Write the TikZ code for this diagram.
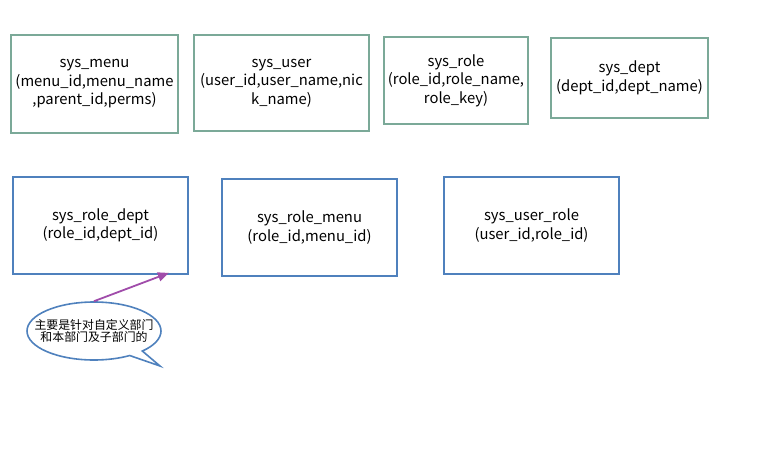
\documentclass[tikz,border=0pt]{standalone}
\usepackage{fontspec}
\usepackage{tikz}
\usetikzlibrary{shapes.geometric, shapes.callouts, arrows.meta, positioning, calc}
\setmainfont{Noto Sans CJK SC}
\definecolor{tblgreen}{HTML}{7BA998}
\definecolor{relblue}{HTML}{4F81BD}
\definecolor{notepurple}{HTML}{A04CAA}

\begin{document}
\begin{tikzpicture}[x=1pt, y=-1pt, >={Triangle[length=11pt, width=9pt]},
    font=\fontsize{14.8}{18.5}\selectfont,
    tbl/.style={rectangle, draw=tblgreen, line width=1.8pt, fill=white,
      align=center, inner sep=1pt},
    rel/.style={rectangle, draw=relblue, line width=1.8pt, fill=white,
      align=center, minimum width=175pt, minimum height=97pt, inner sep=1pt},
    note/.style={ellipse callout, draw=relblue, line width=1.6pt, fill=white,
      inner sep=0pt, minimum width=134pt, minimum height=58pt,
      callout pointer arc=14},
    notetext/.style={align=center, inner sep=0pt,
      font=\fontsize{11.9}{12.6}\selectfont},
  ]
    \useasboundingbox (0,0) rectangle (766,448);

    % base tables
    \node[tbl, minimum width=167pt, minimum height=98pt] (menu) at (94.5,84)
      {sys\_menu\\(menu\_id,menu\_name\\,parent\_id,perms)};
    \node[tbl, minimum width=175pt, minimum height=96pt] (user) at (281.5,83)
      {sys\_user\\(user\_id,user\_name,nic\\k\_name)};
    \node[tbl, minimum width=144pt, minimum height=87pt] (role) at (456,80.5)
      {sys\_role\\(role\_id,role\_name,\\role\_key)};
    \node[tbl, minimum width=157pt, minimum height=80pt] (dept) at (629.5,78)
      {sys\_dept\\(dept\_id,dept\_name)};

    % link tables
    \node[rel] (roledept) at (100.5,225.5) {sys\_role\_dept\\(role\_id,dept\_id)};
    \node[rel] (rolemenu) at (309.5,227.5) {sys\_role\_menu\\(role\_id,menu\_id)};
    \node[rel] (userrole) at (531.5,225.5) {sys\_user\_role\\(user\_id,role\_id)};

    % remark
    \node[note, callout absolute pointer={(160,366)}] (remark) at (94,331) {};
    \node[notetext] (remarktext) at (remark.center)
      {主要是针对自定义部门\\和本部门及子部门的};

    \draw[->, line width=1.8pt, notepurple] (remark.north)
      -- ([xshift=-20pt, yshift=2pt]roledept.south east);
  \end{tikzpicture}
\end{document}
